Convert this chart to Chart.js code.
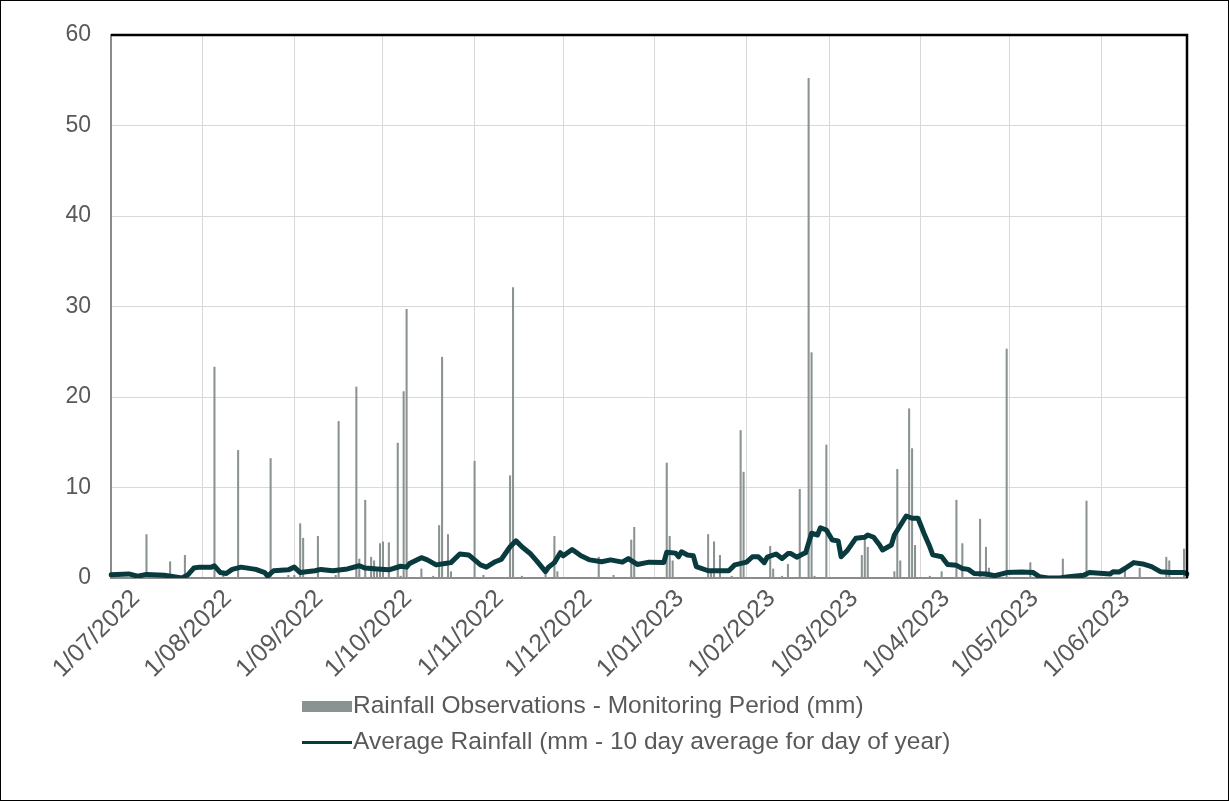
<!DOCTYPE html>
<html>
<head>
<meta charset="utf-8">
<script src="https://cdn.jsdelivr.net/npm/chart.js@4.4.1/dist/chart.umd.min.js"></script>
<style>
  body { margin: 0; background: #fff; font-family: "Liberation Sans", Arial, sans-serif; }
  #frame { position: absolute; left: 0; top: 0; width: 1229px; height: 801px; box-sizing: border-box; border: 1px solid #000; }
  #wrap { position: absolute; left: 0; top: 0; width: 1229px; height: 700px; }
  .leg { position: absolute; left: 302px; font-size: 24.5px; color: #595959; white-space: nowrap; }
  .leg .sw { display: inline-block; width: 50px; vertical-align: middle; margin-right: 1px; }
</style>
</head>
<body>
<div id="frame"></div>
<div id="wrap"><canvas id="rainChart" width="1229" height="700"></canvas></div>
<div class="leg" style="top:691px"><span class="sw" style="height:11px;background:#8a9292"></span>Rainfall Observations - Monitoring Period (mm)</div>
<div class="leg" style="top:727px"><span class="sw" style="height:3px;background:#083a3e"></span>Average Rainfall (mm - 10 day average for day of year)</div>
<script>
// daily categories 1/07/2022 .. 30/06/2023
var startDay = Date.UTC(2022, 6, 1);
var dayLabels = [];
for (var i = 0; i < 365; i++) {
    var d = new Date(startDay + i * 86400000);
    dayLabels.push(d.getUTCDate() + '/' + String(d.getUTCMonth() + 1).padStart(2, '0') + '/' + d.getUTCFullYear());
}

// rainfall observations: day of period (0 = 1/07/2022) and mm
var rainDays = [12, 20, 25, 35, 38, 43, 54, 60, 62, 64, 65, 70, 76, 77, 83, 84, 86, 88, 89, 90, 91, 92, 94, 97, 98, 99, 100,
    105, 109, 111, 112, 114, 115, 123, 126, 135, 136, 139, 147, 150, 151, 165, 170, 176, 177, 188, 189, 190,
    202, 203, 204, 206, 210, 213, 214, 223, 224, 227, 229, 233, 236, 237, 238, 242, 254, 255, 256,
    265, 266, 267, 270, 271, 272, 277, 281, 286, 288, 294, 296, 297, 303, 311, 322, 330, 343, 348, 357, 358, 363];
var rainMm = [4.8, 1.8, 2.5, 23.3, 0.4, 14.1, 13.2, 0.3, 0.3, 6.0, 4.4, 4.6, 0.3, 17.3, 21.1, 2.1, 8.6, 2.3, 1.9, 0.7, 3.8, 4.0, 3.9, 14.9, 0.2, 20.6, 29.7,
    1.0, 0.2, 5.8, 24.4, 4.8, 0.7, 12.9, 0.3, 11.3, 32.1, 0.2, 0.5, 4.6, 0.7, 2.3, 0.3, 4.2, 5.6, 12.7, 4.6, 1.9,
    4.8, 0.7, 4.0, 2.5, 0.2, 16.3, 11.7, 3.5, 1.0, 0.2, 1.5, 9.8, 55.2, 24.9, 0.2, 14.7, 2.5, 4.4, 3.4,
    0.7, 12.0, 1.9, 18.7, 14.3, 3.6, 0.2, 0.7, 8.6, 3.8, 6.5, 3.4, 1.1, 25.3, 1.7, 2.1, 8.5, 1.2, 1.1, 2.3, 1.9, 3.2];

// 10 day average, read at the turning points of the line
var avgDays = [0, 6, 9, 12, 18, 24, 26, 28, 30, 34, 35, 37, 39, 41, 44, 49, 52, 53, 55, 60, 62, 64, 69, 71, 75, 80, 84, 86, 90, 94,
    98, 100, 101, 105, 107, 110, 113, 115, 118, 121, 123, 125, 127, 130, 132, 135, 137, 139, 142, 144, 147, 148, 150, 152, 153,
    156, 159, 162, 166, 169, 173, 175, 178, 182, 187, 188, 191, 192, 193, 195, 197, 198, 202, 209, 211, 215, 217, 219, 221, 222,
    225, 227, 229, 230, 232, 234, 235, 237, 239, 240, 242, 244, 246, 247, 249, 252, 255, 256, 258, 260, 261, 264, 265, 267, 269,
    271, 273, 275, 277, 278, 281, 283, 286, 288, 290, 292, 296, 299, 303, 308, 312, 314, 317, 321, 324, 329, 331, 338, 339, 341,
    343, 346, 349, 352, 355, 358, 363, 364];
var avgMm = [0.35, 0.45, 0.2, 0.4, 0.3, 0.0, 0.35, 1.1, 1.2, 1.2, 1.35, 0.6, 0.5, 0.95, 1.2, 0.95, 0.6, 0.2, 0.8, 0.9, 1.2, 0.6, 0.8, 0.95, 0.8, 1.0, 1.35, 1.1, 1.0, 0.9,
    1.3, 1.2, 1.6, 2.25, 2.0, 1.45, 1.6, 1.7, 2.65, 2.55, 2.0, 1.45, 1.2, 1.8, 2.05, 3.45, 4.1, 3.45, 2.65, 1.9, 0.7, 1.2, 1.7, 2.8, 2.45,
    3.15, 2.45, 2.0, 1.8, 2.0, 1.75, 2.15, 1.5, 1.75, 1.7, 2.85, 2.75, 2.35, 2.9, 2.55, 2.45, 1.25, 0.8, 0.8, 1.45, 1.75, 2.35, 2.35, 1.7, 2.3,
    2.65, 2.15, 2.7, 2.7, 2.3, 2.65, 2.8, 4.95, 4.75, 5.55, 5.3, 4.2, 4.1, 2.35, 3.0, 4.4, 4.5, 4.75, 4.5, 3.65, 3.1, 3.65, 4.75, 5.8, 6.85,
    6.6, 6.6, 4.95, 3.45, 2.55, 2.35, 1.5, 1.4, 1.05, 0.95, 0.5, 0.45, 0.25, 0.6, 0.65, 0.6, 0.15, 0.0, 0.0, 0.15, 0.3, 0.6, 0.45, 0.7, 0.65,
    1.05, 1.7, 1.55, 1.25, 0.7, 0.6, 0.6, 0.45];

var yTicks = [0, 10, 20, 30, 40, 50, 60];

function isMonthStart(idx) {
    return dayLabels[idx] && dayLabels[idx].indexOf('1/') === 0;
}

// black frame on top and right of the plot
var plotFrame = {
    id: 'plotFrame',
    afterDraw: function(chart) {
        var a = chart.chartArea, c = chart.ctx;
        c.save();
        c.strokeStyle = '#000';
        c.lineWidth = 2.5;
        c.beginPath();
        c.moveTo(a.left, a.top);
        c.lineTo(a.right, a.top);
        c.lineTo(a.right, a.bottom);
        c.stroke();
        c.restore();
    }
};

var ctx = document.getElementById('rainChart').getContext('2d');
var rainChart = new Chart(ctx, {
    type: 'bar',
    data: {
        labels: dayLabels,
        datasets: [{
            label: 'Average Rainfall (mm - 10 day average for day of year)',
            type: 'line',
            data: avgDays.map(function(d, i) { return { x: dayLabels[d], y: avgMm[i] }; }),
            borderColor: '#083a3e',
            borderWidth: 5,
            pointRadius: 0,
            tension: 0,
            fill: false,
            borderJoinStyle: 'round',
            borderCapStyle: 'round',
            order: 0
        }, {
            label: 'Rainfall Observations - Monitoring Period (mm)',
            data: rainDays.map(function(d, i) { return { x: dayLabels[d], y: rainMm[i] }; }),
            backgroundColor: '#8a9292',
            barThickness: 1.4,
            order: 1
        }]
    },
    plugins: [plotFrame],
    options: {
        responsive: false,
        animation: false,
        layout: { padding: { top: 35, right: 42, left: 0, bottom: 0 } },
        plugins: { legend: { display: false }, tooltip: { enabled: false } },
        scales: {
            x: {
                type: 'category',
                offset: false,
                afterFit: function(scale) { scale.height = 122; },
                grid: {
                    offset: false,
                    drawTicks: false,
                    color: function(c) { return c.tick && isMonthStart(c.tick.value) ? '#d9d9d9' : 'rgba(0,0,0,0)'; }
                },
                border: { color: '#8c8c8c', width: 2 },
                ticks: {
                    autoSkip: false,
                    maxRotation: 45,
                    minRotation: 45,
                    padding: 6,
                    labelOffset: 25,
                    color: '#595959',
                    font: { family: 'Liberation Sans', size: 25 },
                    callback: function(v, idx) { return isMonthStart(idx) ? dayLabels[idx] : ''; }
                }
            },
            y: {
                min: 0,
                max: 60,
                afterFit: function(scale) { scale.width = 111; },
                afterBuildTicks: function(scale) { scale.ticks = yTicks.map(function(v) { return { value: v }; }); },
                grid: { color: '#d9d9d9', drawTicks: false },
                border: { color: '#8c8c8c', width: 2 },
                ticks: {
                    padding: 20,
                    color: '#595959',
                    font: { family: 'Liberation Sans', size: 23 }
                }
            }
        }
    }
});
</script>
</body>
</html>
